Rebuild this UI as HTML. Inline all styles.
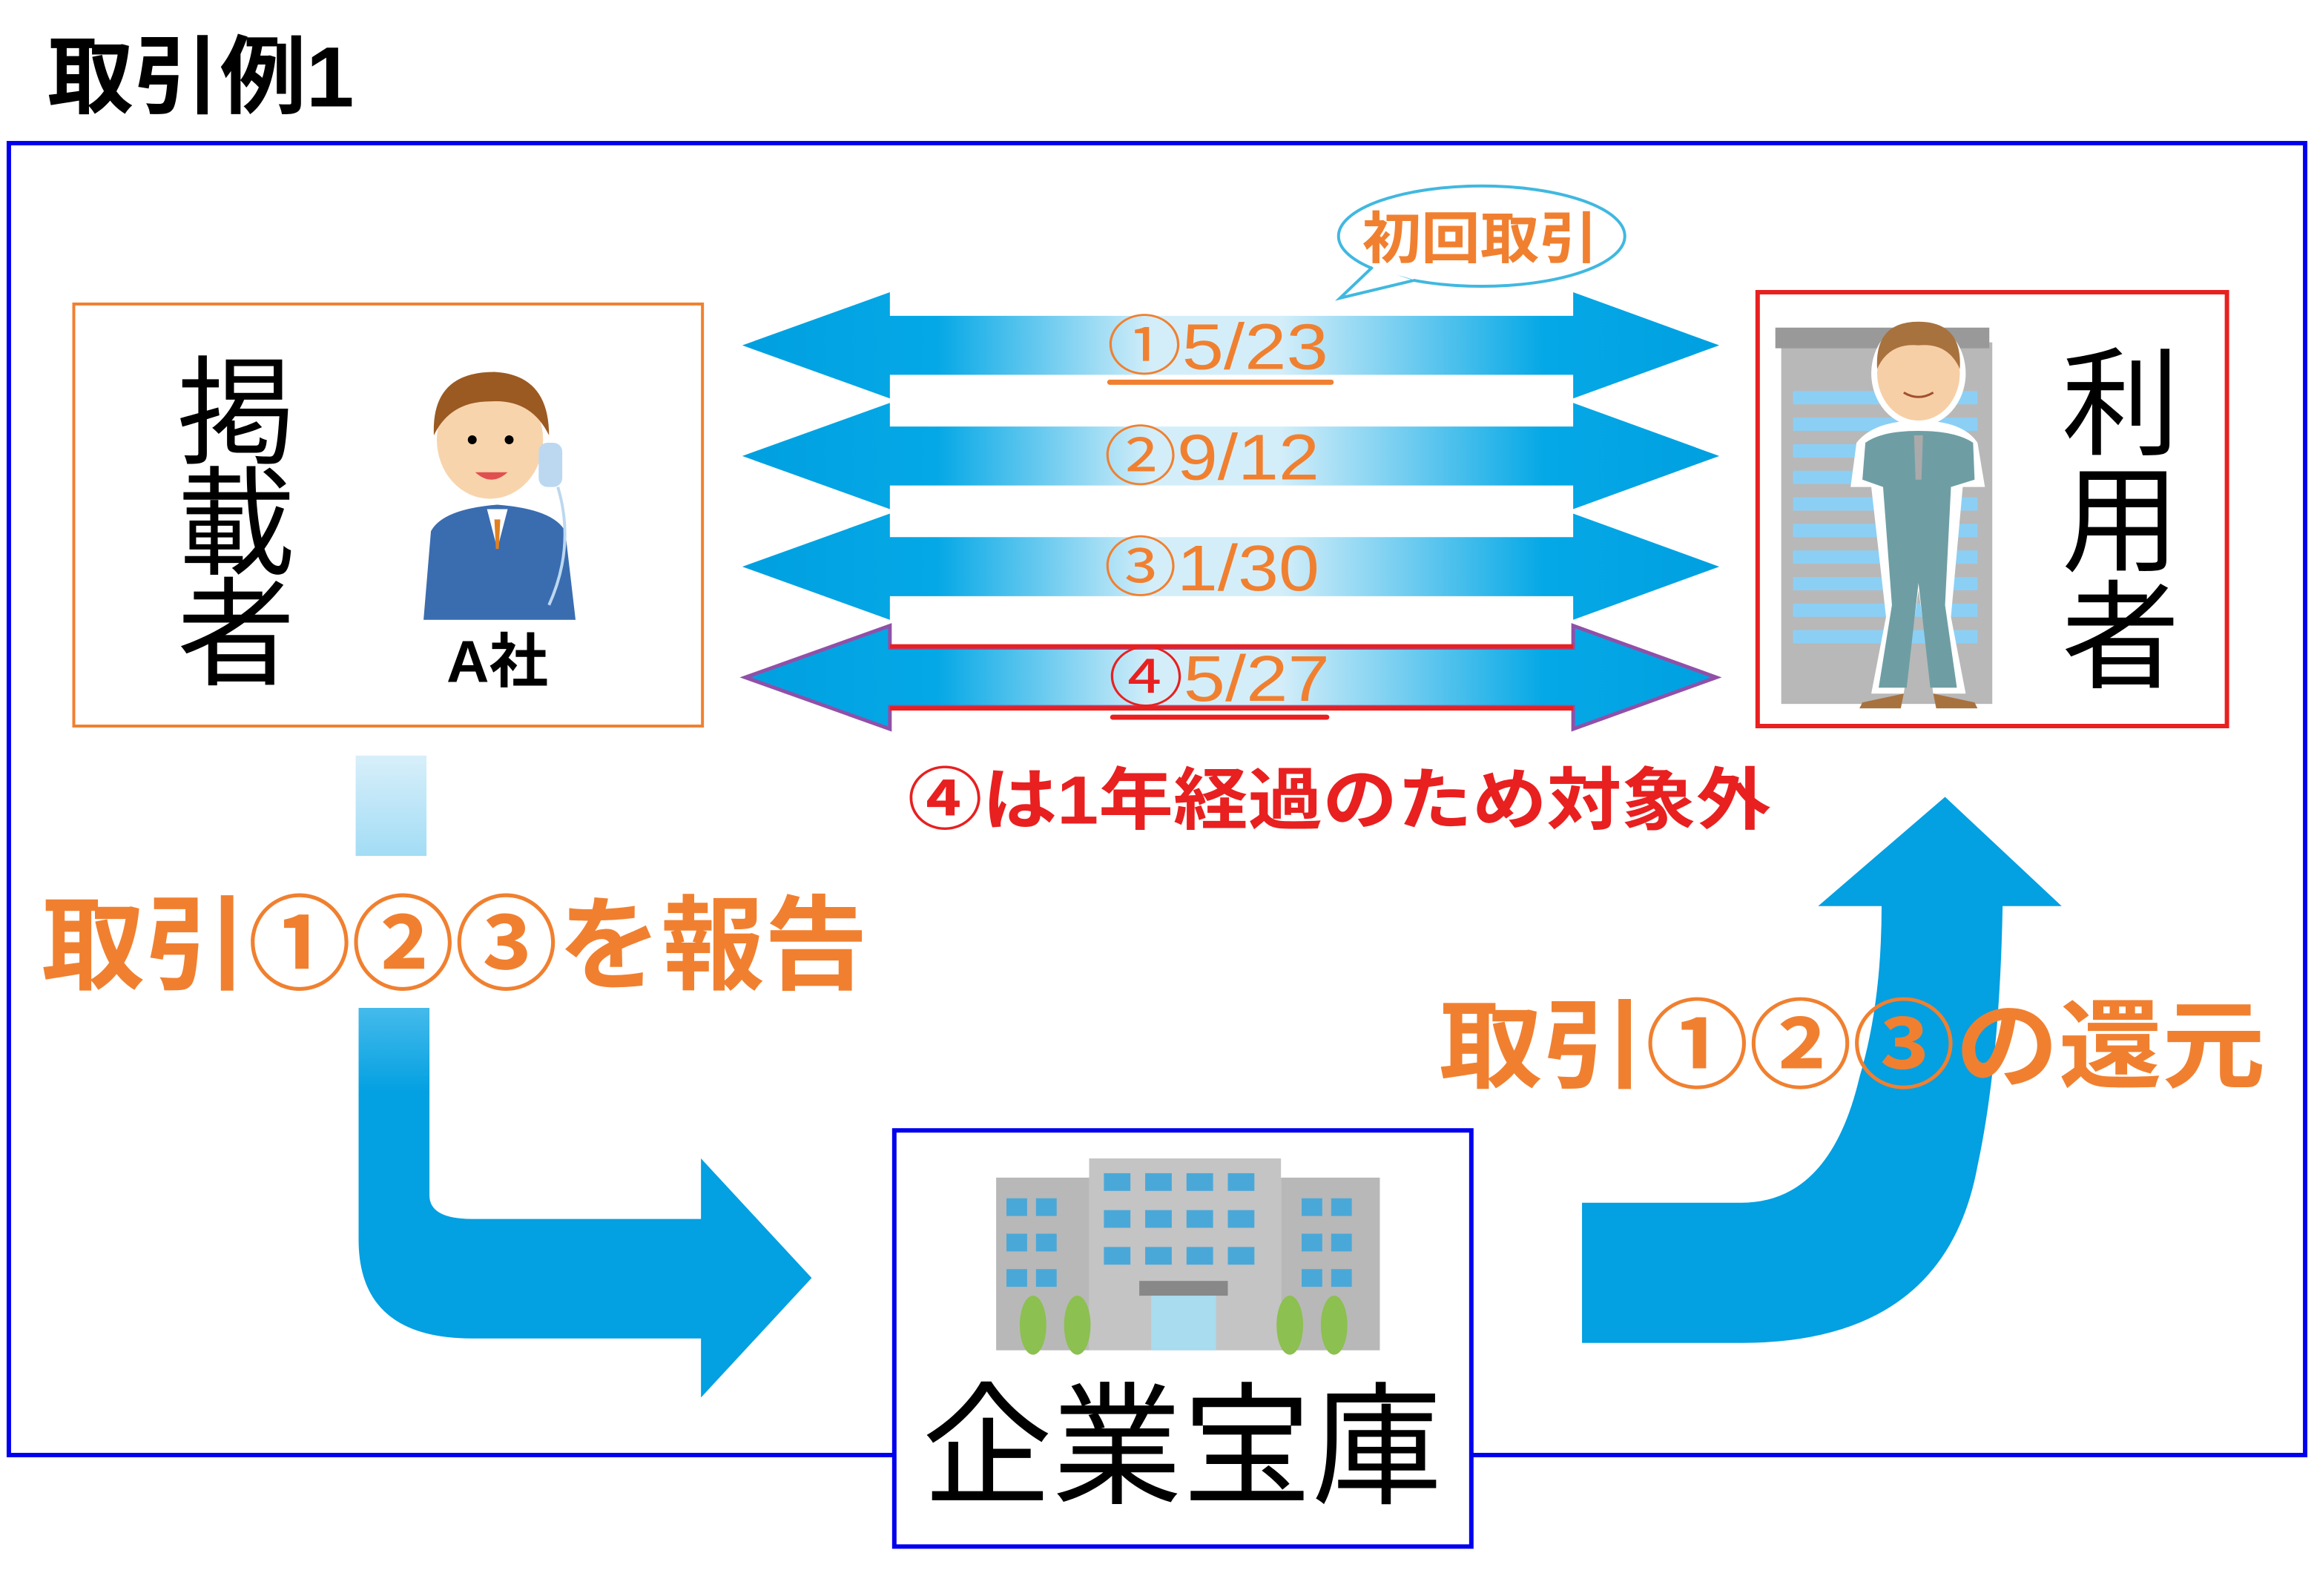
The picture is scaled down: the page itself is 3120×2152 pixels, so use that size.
<!DOCTYPE html>
<html><head><meta charset="utf-8"><style>html,body{margin:0;padding:0;background:#fff}svg{display:block}</style></head>
<body>
<svg width="3120" height="2152" viewBox="0 0 1568 1081.5" xmlns="http://www.w3.org/2000/svg" font-family="'Liberation Sans','Noto Sans CJK JP',sans-serif">
<defs>
<linearGradient id="ag" x1="503" x2="1165" y1="0" y2="0" gradientUnits="userSpaceOnUse">
<stop offset="0" stop-color="#00a0e0"/><stop offset="0.2" stop-color="#05a8e6"/><stop offset="0.42" stop-color="#d4eef9"/><stop offset="0.55" stop-color="#d4eef9"/><stop offset="0.82" stop-color="#05a8e6"/><stop offset="1" stop-color="#00a0e0"/>
</linearGradient>
<linearGradient id="vg" x1="0" x2="0" y1="512" y2="740" gradientUnits="userSpaceOnUse">
<stop offset="0" stop-color="#d8effa"/><stop offset="0.6" stop-color="#6ccaf0"/><stop offset="1" stop-color="#03a0e2"/>
</linearGradient>
</defs>
<text x="32" y="72" font-size="58" font-weight="bold" fill="#000" textLength="208" lengthAdjust="spacingAndGlyphs">取引例1</text>
<rect x="6" y="97" width="1556" height="889" fill="none" stroke="#0000ee" stroke-width="3"/>
<!-- left box -->
<rect x="50" y="206" width="426" height="286" fill="#fff" stroke="#f08030" stroke-width="2"/>
<g font-size="80" fill="#000" text-anchor="middle"><text x="160" y="308">掲</text><text x="160" y="383">載</text><text x="160" y="458">者</text></g>
<!-- person A -->
<g>
<path d="M287 420 L292 360 Q300 345 337 342 Q375 345 383 360 L390 420 Z" fill="#3a6cb0"/>
<path d="M330 345 L337 372 L344 345 Z" fill="#fff"/><path d="M335 352 L339 352 L338 372 L336 372Z" fill="#e08020"/>
<ellipse cx="332" cy="298" rx="36" ry="40" fill="#f8d4ac"/>
<path d="M294 295 Q292 252 335 252 Q372 254 372 295 Q360 270 332 272 Q305 272 294 295Z" fill="#9b5a22"/>
<circle cx="320" cy="298" r="3" fill="#000"/><circle cx="345" cy="298" r="3" fill="#000"/>
<path d="M322 320 Q333 330 344 320" fill="#e05050"/>
<rect x="365" y="300" width="16" height="30" rx="6" fill="#bcd8f0"/><path d="M378 330 Q390 370 372 410" stroke="#bcd8f0" stroke-width="2" fill="none"/>
</g>
<text x="337" y="462" font-size="40" font-weight="bold" fill="#000" text-anchor="middle">A社</text>
<!-- right box -->
<rect x="1191" y="198" width="318" height="294" fill="#fff" stroke="#e82020" stroke-width="3"/>
<g>
<rect x="1207" y="232" width="143" height="245" fill="#b8b8b8"/><rect x="1203" y="222" width="145" height="14" fill="#999"/>
<g fill="#8ccff5"><rect x="1215" y="265" width="125" height="9"/><rect x="1215" y="283" width="125" height="9"/><rect x="1215" y="301" width="125" height="9"/><rect x="1215" y="319" width="125" height="9"/><rect x="1215" y="337" width="125" height="9"/><rect x="1215" y="355" width="125" height="9"/><rect x="1215" y="373" width="125" height="9"/><rect x="1215" y="391" width="125" height="9"/><rect x="1215" y="409" width="125" height="9"/><rect x="1215" y="427" width="125" height="9"/></g>
<path d="M1268 470 L1278 418 L1268 330 L1254 330 L1258 300 Q1270 285 1300 285 Q1330 285 1340 300 L1345 330 L1330 330 L1322 418 L1332 470 L1310 470 L1300 400 L1290 470 Z" fill="#fff"/>
<path d="M1273 466 L1282 410 L1276 330 L1262 325 L1264 300 Q1275 292 1300 292 Q1325 292 1337 300 L1338 325 L1322 330 L1318 410 L1326 466 L1308 466 L1300 395 L1292 466 Z" fill="#6e9ea4"/>
<path d="M1297 295 L1303 295 L1302 325 L1298 325Z" fill="#aaa"/>
<ellipse cx="1300" cy="253" rx="32" ry="36" fill="#fff"/><ellipse cx="1300" cy="253" rx="28" ry="32" fill="#f7cfa6"/>
<path d="M1272 250 Q1270 218 1300 218 Q1330 218 1328 250 Q1320 232 1300 234 Q1280 232 1272 250Z" fill="#a8723e"/>
<path d="M1290 266 Q1300 272 1310 266" stroke="#a05030" stroke-width="1.5" fill="none"/>
<path d="M1262 476 L1290 470 L1288 480 L1260 480Z M1310 470 L1338 476 L1340 480 L1312 480Z" fill="#a8723e"/>
</g>
<g font-size="80" fill="#000" text-anchor="middle"><text x="1437" y="302">利</text><text x="1437" y="381">用</text><text x="1437" y="460">者</text></g>
<!-- double arrows -->
<g fill="url(#ag)">
<path d="M503 234 L603 198 L603 214 L1066 214 L1066 198 L1165 234 L1066 270 L1066 254 L603 254 L603 270 Z"/>
<path d="M503 309 L603 273 L603 289 L1066 289 L1066 273 L1165 309 L1066 345 L1066 329 L603 329 L603 345 Z"/>
<path d="M503 384 L603 348 L603 364 L1066 364 L1066 348 L1165 384 L1066 420 L1066 404 L603 404 L603 420 Z"/>
<path d="M505 459 L603 424 L603 439 L1066 439 L1066 424 L1163 459 L1066 494 L1066 479 L603 479 L603 494 Z" stroke="#9050a8" stroke-width="2.5"/>
</g>
<line x1="603" y1="438" x2="1066" y2="438" stroke="#e82020" stroke-width="3"/>
<line x1="603" y1="480" x2="1066" y2="480" stroke="#e82020" stroke-width="3"/>
<g font-size="44" fill="#f08030" text-anchor="middle">
<text x="825" y="250" textLength="150" lengthAdjust="spacingAndGlyphs">①5/23</text>
<text x="821" y="325" textLength="146" lengthAdjust="spacingAndGlyphs">②9/12</text>
<text x="821" y="400" textLength="146" lengthAdjust="spacingAndGlyphs">③1/30</text>
<text x="826" y="475" textLength="150" lengthAdjust="spacingAndGlyphs"><tspan fill="#e82020">④</tspan>5/27</text>
</g>
<line x1="752" y1="259" x2="902" y2="259" stroke="#f08030" stroke-width="3.5" stroke-linecap="round"/>
<line x1="754" y1="486" x2="899" y2="486" stroke="#e82020" stroke-width="3.5" stroke-linecap="round"/>
<!-- bubble -->
<ellipse cx="1004" cy="160" rx="97" ry="34" fill="#fff" stroke="#40b8e0" stroke-width="2"/>
<path d="M930 181 L908 202 L958 190" fill="#fff" stroke="#40b8e0" stroke-width="2"/>
<path d="M932 180 L958 188" stroke="#fff" stroke-width="3"/>
<text x="1003" y="175" font-size="38" fill="#f08030" text-anchor="middle" font-weight="bold" textLength="160" lengthAdjust="spacingAndGlyphs">初回取引</text>
<text x="615" y="558" font-size="46" font-weight="bold" fill="#e82020" textLength="585" lengthAdjust="spacingAndGlyphs">④は1年経過のため対象外</text>
<!-- L arrow -->
<rect x="241" y="512" width="48" height="68" fill="url(#vg)"/>
<path d="M243 683 L291 683 L291 810 Q291 826 320 826 L475 826 L475 785 L550 866 L475 947 L475 907 L320 907 Q243 907 243 840 Z" fill="url(#vg)"/>
<text x="28" y="665" font-size="70" font-weight="bold" fill="#f08030" textLength="560" lengthAdjust="spacingAndGlyphs">取引①②③を報告</text>
<!-- up arrow -->
<path d="M1072 815 L1180 815 Q1240 815 1260 730 Q1275 680 1275 614 L1232 614 L1318 540 L1397 614 L1357 614 Q1355 720 1340 790 Q1318 910 1180 910 L1072 910 Z" fill="#03a0e2"/>
<text x="975" y="732" font-size="66" font-weight="bold" fill="#f08030" textLength="560" lengthAdjust="spacingAndGlyphs">取引①②③の還元</text>
<!-- bottom box -->
<rect x="606" y="766" width="391" height="282" fill="#fff" stroke="#0000ee" stroke-width="3"/>
<g>
<rect x="675" y="798" width="63" height="117" fill="#b8b8b8"/><rect x="868" y="798" width="67" height="117" fill="#b8b8b8"/>
<rect x="738" y="785" width="130" height="130" fill="#c4c4c4"/>
<g fill="#4aa8d8">
<rect x="748" y="795" width="18" height="12"/><rect x="776" y="795" width="18" height="12"/><rect x="804" y="795" width="18" height="12"/><rect x="832" y="795" width="18" height="12"/>
<rect x="748" y="820" width="18" height="12"/><rect x="776" y="820" width="18" height="12"/><rect x="804" y="820" width="18" height="12"/><rect x="832" y="820" width="18" height="12"/>
<rect x="748" y="845" width="18" height="12"/><rect x="776" y="845" width="18" height="12"/><rect x="804" y="845" width="18" height="12"/><rect x="832" y="845" width="18" height="12"/>
<rect x="682" y="812" width="14" height="12"/><rect x="702" y="812" width="14" height="12"/><rect x="682" y="836" width="14" height="12"/><rect x="702" y="836" width="14" height="12"/><rect x="682" y="860" width="14" height="12"/><rect x="702" y="860" width="14" height="12"/>
<rect x="882" y="812" width="14" height="12"/><rect x="902" y="812" width="14" height="12"/><rect x="882" y="836" width="14" height="12"/><rect x="902" y="836" width="14" height="12"/><rect x="882" y="860" width="14" height="12"/><rect x="902" y="860" width="14" height="12"/>
</g>
<rect x="772" y="868" width="60" height="10" fill="#888"/><rect x="780" y="878" width="44" height="37" fill="#a8dcee"/>
<g fill="#8cc050"><ellipse cx="700" cy="898" rx="9" ry="20"/><ellipse cx="730" cy="898" rx="9" ry="20"/><ellipse cx="874" cy="898" rx="9" ry="20"/><ellipse cx="904" cy="898" rx="9" ry="20"/></g>
</g>
<text x="801" y="1012" font-size="90" fill="#000" text-anchor="middle" textLength="352" lengthAdjust="spacingAndGlyphs">企業宝庫</text>
</svg>
</body></html>
